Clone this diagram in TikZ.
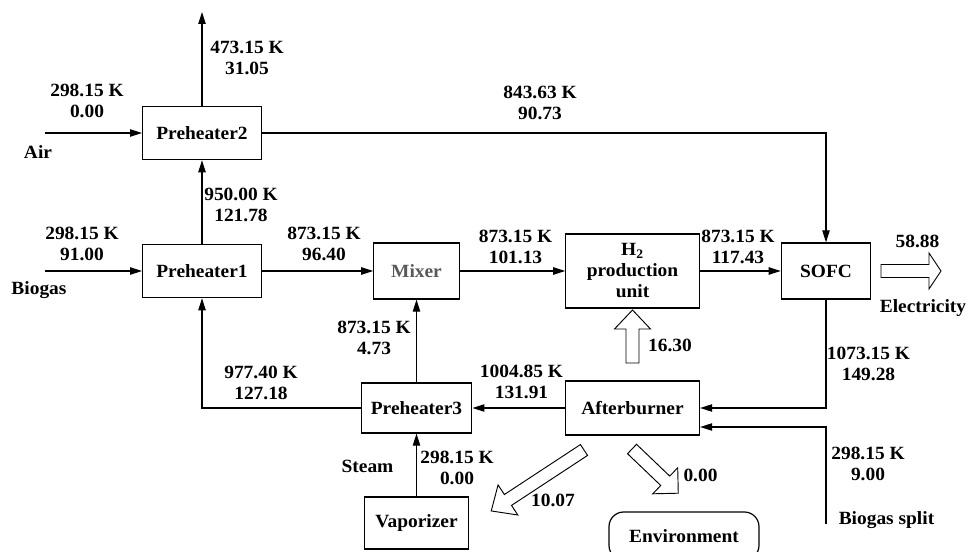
\documentclass[tikz,border=0pt]{standalone}
\usepackage{fontspec}
\setmainfont{Liberation Serif}[FakeStretch=1.04]
\usetikzlibrary{arrows.meta, calc}

\tikzset{
  unit/.style={draw, line width=0.9pt, inner sep=0pt},
  flow/.style={line width=0.9pt, -{Triangle[length=9pt, width=5.5pt]}},
  val/.style={align=center},
  hollowarrow/.style={draw, line width=0.7pt, fill=white, line join=miter},
}

% open (energy) arrow: tail point, angle, length, head length
\newcommand{\fatarrow}[4]{%
  \draw[hollowarrow, shift={#1}, rotate=#2]
    (0,-6.5) -- ({#3-#4},-6.5) -- ({#3-#4},-18) -- (#3,0)
    -- ({#3-#4},18) -- ({#3-#4},6.5) -- (0,6.5) -- cycle;}

\begin{document}
\begin{tikzpicture}[x=0.75pt, y=-0.75pt,
    every node/.style={font=\bfseries\fontsize{14}{15.75}\selectfont}]
  \useasboundingbox (0,0) rectangle (970,552);

  % Units
  \node[unit, minimum width=89pt, minimum height=40pt] (ph2) at (202,133) {Preheater2};
  \node[unit, minimum width=89pt, minimum height=40pt] (ph1) at (202,271) {Preheater1};
  \node[unit, minimum width=64pt, minimum height=42pt, text=black!65] (mixer) at (416.5,271) {Mixer};
  \node[unit, minimum width=100pt, minimum height=55.5pt, align=center] (h2) at (632.5,271) {H\textsubscript{2}\\production\\unit};
  \node[unit, minimum width=67pt, minimum height=42pt] (sofc) at (826,271) {SOFC};
  \node[unit, minimum width=100.5pt, minimum height=40.5pt] (ab) at (632.5,408) {Afterburner};
  \node[unit, minimum width=83pt, minimum height=37.5pt] (ph3) at (416.5,408) {Preheater3};
  \node[unit, minimum width=78pt, minimum height=39pt] (vap) at (416.5,523) {Vaporizer};
  \node[unit, rounded corners=11pt, minimum width=112.5pt, minimum height=36pt] (env) at (684,536) {Environment};

  % Free ends
  \coordinate (airin) at (45,133);
  \coordinate (exhaust) at (202,12);
  \coordinate (biogasin) at (45,271);
  \coordinate (splitin) at (826,524);

  % Streams
  \draw[flow] (airin) -- (ph2);
  \draw[flow] (ph2) -- (exhaust);
  \draw[flow] (ph1) -- (ph2);
  \draw[flow] (biogasin) -- (ph1);
  \draw[flow] (ph1) -- (mixer);
  \draw[flow] (mixer) -- (h2);
  \draw[flow] (h2) -- (sofc);
  \draw[flow] (ph2) -| (sofc);
  \draw[flow] (sofc) |- (ab);
  \draw[flow] (splitin) |- ($(ab.east)+(0,19)$);
  \draw[flow] (ab) -- (ph3);
  \draw[flow] (ph3) -| (ph1);
  \draw[flow] (ph3) -- (mixer);
  \draw[flow] (vap) -- (ph3);

  % Energy flows
  \fatarrow{(881,271)}{0}{60}{12}
  \fatarrow{(632.5,363)}{90}{53}{19}
  \fatarrow{(584,450)}{213.3}{111}{20}
  \fatarrow{(632,449)}{-43.7}{64}{18}

  % Labels
  \node[val] (airval) at (87,101) {298.15 K\\0.00};
  \node (airlbl) at (38,152) {Air};
  \node[val] (exhval) at (247,58) {473.15 K\\31.05};
  \node[val] (cathval) at (540,103) {843.63 K\\90.73};
  \node[val] (bioval) at (82,244) {298.15 K\\91.00};
  \node (biolbl) at (39,290) {Biogas};
  \node[val] (ph1ph2val) at (241,205) {950.00 K\\121.78};
  \node[val] (ph1mixval) at (324,244) {873.15 K\\96.40};
  \node[val] (mixh2val) at (515.5,247) {873.15 K\\101.13};
  \node[val] (h2sofcval) at (738,247) {873.15 K\\117.43};
  \node (elecval) at (917.5,241) {58.88};
  \node (eleclbl) at (923,308) {Electricity};
  \node (heatval) at (670,345) {16.30};
  \node[val] (sofcabval) at (868.5,363.5) {1073.15 K\\149.28};
  \node[val] (ph3mixval) at (374,338) {873.15 K\\4.73};
  \node[val] (ph3ph1val) at (261,382.5) {977.40 K\\127.18};
  \node[val] (abph3val) at (521.5,381.5) {1004.85 K\\131.91};
  \node (steamlbl) at (367.5,466) {Steam};
  \node[val] (steamval) at (457,467.5) {298.15 K\\0.00};
  \node (vapval) at (553,500) {10.07};
  \node (envval) at (700.5,475) {0.00};
  \node[val] (splitval) at (868,464) {298.15 K\\9.00};
  \node (splitlbl) at (886.5,520) {Biogas split};
\end{tikzpicture}
\end{document}
